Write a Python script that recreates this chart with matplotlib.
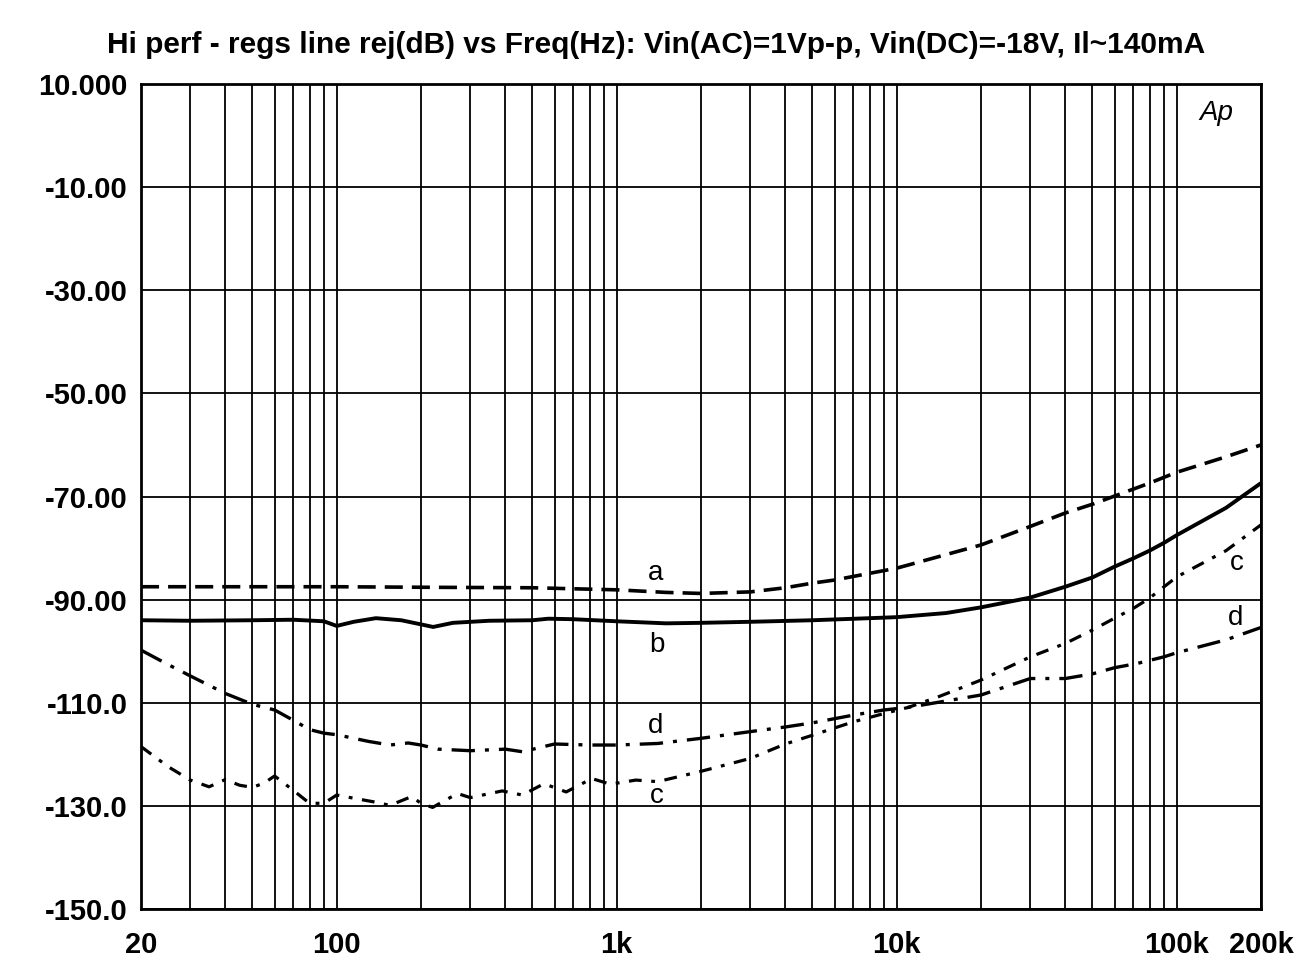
import matplotlib
matplotlib.use("Agg")
import matplotlib.pyplot as plt
from matplotlib.ticker import FixedLocator, NullFormatter

# ---- data ----
a_f = [20, 50, 100, 200, 500, 1000, 1500, 2000, 3000, 4000, 5000, 6000, 8000, 10000,
       13000, 20000, 30000, 40000, 50000, 80000, 100000, 150000, 200000]
a_db = [-87.5, -87.5, -87.5, -87.6, -87.7, -88.1, -88.6, -88.8, -88.5, -87.7, -86.8, -86.2,
        -84.9, -83.9, -82.2, -79.4, -75.8, -73.2, -71.5, -67.4, -65.3, -62.3, -60.0]

b_f = [20, 30, 50, 70, 90, 100, 115, 138, 170, 200, 221, 260, 350, 500, 570, 700, 1000,
       1500, 2000, 3000, 5000, 8000, 10000, 15000, 20000, 30000, 40000, 50000, 60000,
       70000, 80000, 90000, 100000, 150000, 200000]
b_db = [-94.0, -94.1, -94.0, -93.9, -94.2, -95.1, -94.3, -93.6, -94.0, -94.8, -95.3, -94.5,
        -94.1, -94.0, -93.7, -93.8, -94.2, -94.6, -94.5, -94.3, -94.0, -93.6, -93.4, -92.6,
        -91.5, -89.6, -87.5, -85.7, -83.6, -82.0, -80.5, -79.0, -77.5, -72.2, -67.4]

c_f = [20, 25, 30, 35, 40, 45, 50, 55, 60, 70, 80, 90, 100, 120, 135, 155, 185, 200, 220,
       270, 300, 390, 460, 550, 660, 815, 950, 1170, 1400, 2000, 3000, 4000, 5000, 7000,
       9000, 11000, 14000, 20000, 30000, 40000, 50000, 60000, 70000, 80000, 100000,
       150000, 200000]
c_db = [-118.5, -122.4, -125.0, -126.3, -124.9, -126.0, -126.4, -125.6, -124.2, -127.0,
        -129.5, -129.5, -127.9, -128.7, -129.2, -129.9, -128.2, -129.5, -130.3, -127.6,
        -128.4, -127.1, -127.9, -125.7, -127.3, -124.7, -125.8, -125.0, -125.3, -123.3,
        -120.8, -118.0, -116.3, -113.7, -112.1, -110.9, -108.9, -105.6, -101.1, -98.5,
        -95.9, -93.6, -91.7, -89.7, -85.6, -80.5, -75.5]

d_f = [20, 25, 30, 40, 50, 60, 70, 80, 90, 100, 130, 155, 180, 200, 230, 300, 400, 460,
       600, 800, 1000, 1400, 2000, 3000, 4000, 5000, 7000, 9000, 11000, 20000, 30000,
       40000, 50000, 60000, 72000, 90000, 100000, 150000, 200000]
d_db = [-99.8, -102.6, -104.8, -108.2, -110.3, -111.4, -113.4, -115.2, -115.9, -116.2,
        -117.5, -118.2, -117.8, -118.2, -119.0, -119.3, -119.0, -119.5, -118.0, -118.2,
        -118.2, -117.9, -116.9, -115.6, -114.7, -113.9, -112.4, -111.4, -110.9, -108.5,
        -105.3, -105.3, -104.4, -103.2, -102.4, -101.1, -100.3, -97.8, -95.4]

x_ticks = [20, 100, 1000, 10000, 100000, 200000]
x_ticklabels = ["20", "100", "1k", "10k", "100k", "200k"]
y_ticks = [10, -10, -30, -50, -70, -90, -110, -130, -150]
y_ticklabels = ["10.000", "-10.00", "-30.00", "-50.00", "-70.00", "-90.00",
                "-110.0", "-130.0", "-150.0"]

title = "Hi perf - regs line rej(dB) vs Freq(Hz): Vin(AC)=1Vp-p, Vin(DC)=-18V, Il~140mA"

# ---- figure ----
plt.rcParams['font.family'] = ['Liberation Sans', 'DejaVu Sans']
W, H = 1306, 961
fig = plt.figure(figsize=(W / 100, H / 100), dpi=100)
ax = fig.add_axes([141 / W, 1 - 909 / H, 1120 / W, 825 / H])
ax.set_xscale('log')
ax.set_xlim(20, 200000)
ax.set_ylim(-150, 10)

# grid
grid_x = []
for dec in [10, 100, 1000, 10000, 100000]:
    for m in range(1, 10):
        v = m * dec
        if 20 <= v <= 200000:
            grid_x.append(v)
grid_x.append(200000)
for gx in grid_x:
    ax.axvline(gx, color='black', lw=1.3, zorder=1)
for gy in y_ticks:
    ax.axhline(gy, color='black', lw=1.3, zorder=1)

# curves
ax.plot(a_f, a_db, color='black', lw=2.6, linestyle=(0, (5, 2.5)), zorder=3)
ax.plot(b_f, b_db, color='black', lw=2.8, linestyle='-', zorder=3)
ax.plot(c_f, c_db, color='black', lw=2.3, linestyle=(0, (4, 3, 1.2, 3)), zorder=3)
ax.plot(d_f, d_db, color='black', lw=2.4, linestyle=(0, (7, 3, 1.2, 3)), zorder=3)

# ticks
ax.xaxis.set_minor_locator(FixedLocator([]))
ax.xaxis.set_minor_formatter(NullFormatter())
ax.set_xticks(x_ticks)
ax.set_xticklabels(x_ticklabels)
ax.set_yticks(y_ticks)
ax.set_yticklabels(y_ticklabels)
ax.tick_params(axis='both', which='both', length=0, labelsize=21)
ax.tick_params(axis='x', pad=16)
ax.tick_params(axis='y', pad=9.5)
for lbl in ax.get_xticklabels() + ax.get_yticklabels():
    lbl.set_fontweight('bold')
for s in ax.spines.values():
    s.set_linewidth(2.0)

# curve labels
lab_kw = dict(fontsize=20, ha='center', va='center', color='black', zorder=5)
ax.text(1371, -84.8, "a", **lab_kw)
ax.text(1390, -98.8, "b", **lab_kw)
ax.text(1371, -114.5, "d", **lab_kw)
ax.text(1390, -128.0, "c", **lab_kw)
ax.text(164000, -82.9, "c", **lab_kw)
ax.text(162000, -93.5, "d", **lab_kw)
ax.text(139000, 4.4, "Ap", fontsize=20, ha='center', va='center', style='italic')

fig.text(656 / W, 1 - 45 / H, title, ha='center', va='center', fontsize=21.5,
         fontweight='bold')

fig.savefig("out.png", dpi=100)
